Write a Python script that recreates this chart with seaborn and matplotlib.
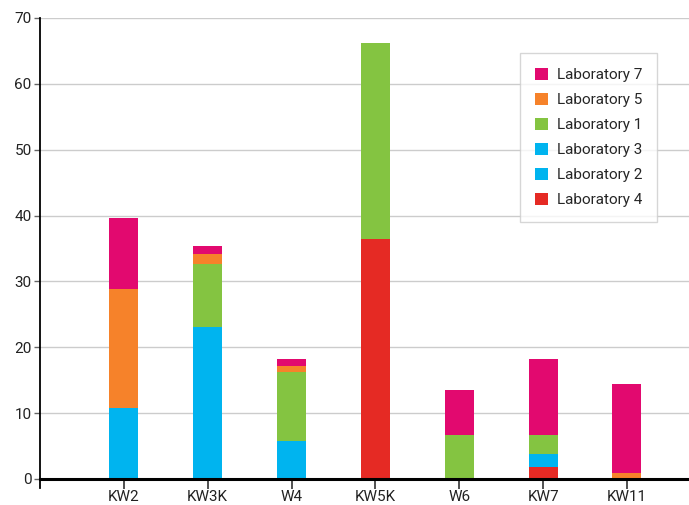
import numpy as np
import pandas as pd
import matplotlib
matplotlib.use("Agg")
import matplotlib.pyplot as plt
import seaborn as sns

categories = ["KW2", "KW3K", "W4", "KW5K", "W6", "KW7", "KW11"]
lab4 = [0, 0, 0, 36.4, 0, 1.8, 0]
lab2 = [0, 0, 0, 0, 0, 2.05, 0]
lab3 = [10.8, 23.1, 5.8, 0, 0, 0, 0]
lab1 = [0, 9.5, 10.4, 29.8, 6.7, 2.85, 0]
lab5 = [18.05, 1.6, 1.0, 0, 0, 0, 0.9]
lab7 = [10.75, 1.2, 1.0, 0, 6.8, 11.5, 13.5]

series = [
    ("Laboratory 4", lab4, "#e52a24"),
    ("Laboratory 2", lab2, "#00b4ef"),
    ("Laboratory 3", lab3, "#00b4ef"),
    ("Laboratory 1", lab1, "#84c441"),
    ("Laboratory 5", lab5, "#f6822a"),
    ("Laboratory 7", lab7, "#e2096f"),
]

sns.set_style("white")
plt.rcParams['font.family'] = ['Roboto', 'DejaVu Sans']

fig = plt.figure(figsize=(6.89, 5.05), dpi=100)
ax = fig.add_axes([40 / 689, 26 / 505, 649 / 689, 461 / 505])

df = pd.DataFrame({name: vals for name, vals, _ in series}, index=categories)
bottom = np.zeros(len(categories))
x = np.arange(len(categories))
handles = []
for name, vals, color in series:
    h = ax.bar(x, df[name].values, bottom=bottom, width=0.345, color=color,
               label=name, zorder=3, linewidth=0)
    handles.append(h)
    bottom += df[name].values

ax.set_xlim(-1, 6.74)
ax.set_ylim(0, 70)
ax.set_yticks(range(0, 71, 10))
ax.set_xticks(x)
ax.set_xticklabels(categories)
ax.yaxis.grid(True, color="#cccccc", linewidth=1, zorder=0)
ax.xaxis.grid(False)

for s in ["top", "right"]:
    ax.spines[s].set_visible(False)
ax.spines["left"].set_color("black")
ax.spines["left"].set_linewidth(1.3)
ax.spines["left"].set_bounds(-1.3, 70)
ax.spines["bottom"].set_color("black")
ax.spines["bottom"].set_linewidth(2.2)
ax.spines["bottom"].set_zorder(4)

ax.tick_params(axis="y", direction="out", length=4, width=1, color="#666666",
               labelsize=11, labelcolor="#222222", pad=2, left=True)
ax.tick_params(axis="x", direction="out", length=7.2, width=1.2, color="#333333",
               labelsize=11, labelcolor="#222222", pad=1, bottom=True)

leg = ax.legend(handles[::-1], [s[0] for s in series][::-1],
                loc="upper left", bbox_to_anchor=(480 / 649, (479 - 53) / 461),
                frameon=True, fancybox=False, edgecolor="#cccccc", fontsize=11,
                handlelength=0.9, handleheight=0.9, handletextpad=0.6,
                labelspacing=0.68, borderpad=0.95, borderaxespad=0)
leg.get_frame().set_linewidth(1)

fig.savefig("out.png", dpi=100)
